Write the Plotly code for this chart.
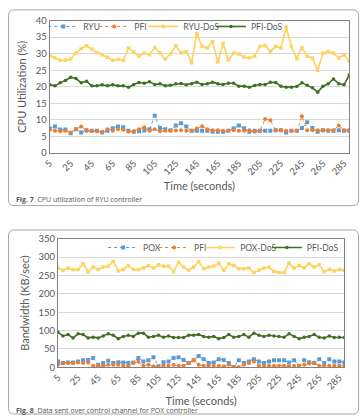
import plotly.graph_objects as go

W, H = 361, 420

time_s = list(range(5, 295, 5))
tick_vals = list(range(5, 290, 20))

# Fig 7 - CPU utilization (%)
ryu = [7.4, 8.0, 7.1, 7.1, 6.0, 7.2, 6.2, 6.9, 6.7, 6.7, 6.2, 6.7, 7.5, 8.0, 7.8, 6.7, 6.4, 6.6, 6.8, 7.2,
       11.3, 7.6, 7.2, 6.9, 8.3, 9.0, 8.0, 6.7, 6.7, 6.7, 6.7, 6.4, 6.4, 6.4, 6.7, 7.4, 8.3, 7.5, 6.4, 6.7,
       6.7, 6.7, 6.7, 6.9, 6.9, 6.2, 6.7, 6.7, 7.6, 9.3, 7.6, 6.4, 6.9, 6.7, 6.7, 6.9, 6.7, 6.7]
pfi = [7.0, 6.7, 6.6, 6.7, 6.2, 7.2, 8.0, 6.7, 6.7, 6.6, 6.4, 7.2, 6.7, 7.2, 7.0, 6.4, 6.6, 7.2, 7.8, 6.7,
       7.2, 6.6, 6.7, 6.7, 6.8, 6.9, 6.7, 6.7, 7.4, 8.1, 7.2, 6.9, 6.9, 6.7, 6.7, 6.9, 6.7, 6.7, 6.9, 6.4,
       6.7, 10.3, 9.9, 6.9, 6.9, 6.7, 6.7, 6.7, 11.1, 6.9, 6.9, 6.9, 6.9, 6.9, 6.9, 8.3, 6.9, 6.9]
ryu_dos = [29.5, 28.7, 28.0, 28.0, 28.4, 30.2, 31.6, 32.4, 31.4, 30.4, 29.7, 28.9, 28.0, 28.3, 28.0, 31.7,
           30.5, 29.2, 30.2, 29.7, 31.9, 30.2, 28.4, 29.9, 32.4, 30.2, 30.7, 27.3, 36.0, 32.2, 31.7, 33.6,
           27.5, 33.1, 28.0, 30.2, 29.9, 29.0, 28.7, 29.2, 32.2, 32.5, 30.7, 32.2, 31.7, 38.0, 32.2, 28.5,
           31.9, 29.2, 28.7, 25.0, 30.2, 30.7, 30.2, 28.7, 29.7, 27.7]
pfi_dos = [20.6, 20.3, 21.2, 21.9, 22.9, 22.5, 21.2, 21.7, 20.3, 20.3, 20.6, 20.3, 20.6, 20.3, 20.3, 19.9,
           20.7, 21.3, 21.1, 21.5, 20.7, 20.9, 20.3, 20.5, 20.9, 21.0, 20.6, 20.9, 21.4, 20.7, 20.9, 21.4,
           20.9, 20.7, 21.1, 21.1, 20.2, 20.2, 19.9, 20.4, 20.7, 20.7, 21.4, 21.3, 20.2, 19.9, 19.9, 20.1,
           21.2, 20.5, 19.7, 18.4, 20.2, 20.9, 22.4, 20.9, 20.6, 23.6]

# Fig 8 - Bandwidth (KB/sec)
pox = [16, 12, 13, 13, 16, 19, 20, 25, 7, 12, 18, 12, 14, 13, 12, 13, 25, 16, 19, 27, 3, 14, 16, 25, 27,
       20, 12, 19, 31, 22, 12, 13, 22, 20, 12, 0, 19, 12, 16, 22, 16, 12, 16, 19, 19, 19, 13, 19, 4, 19,
       14, 12, 22, 12, 22, 16, 16, 13]
pfi2 = [7, 12, 12, 12, 13, 12, 13, 4, 4, 3, 7, 7, 7, 4, 3, 12, 15, 4, 7, 3, 1, 4, 4, 7, 4,
        4, 12, 19, 7, 4, 4, 4, 4, 3, 7, 1, 1, 7, 12, 16, 4, 4, 4, 4, 4, 4, 3, 4, 4, 7,
        10, 13, 4, 4, 4, 4, 4, 4]
pox_dos = [270, 264, 270, 266, 266, 282, 260, 273, 266, 273, 275, 289, 262, 266, 277, 266, 266, 270, 277,
           270, 279, 275, 275, 260, 286, 273, 264, 273, 288, 268, 273, 275, 284, 264, 282, 277, 268, 268,
           270, 258, 264, 270, 273, 261, 258, 258, 284, 270, 277, 271, 282, 273, 279, 260, 266, 262, 266, 264]
pfi_dos2 = [96, 85, 89, 80, 91, 89, 80, 82, 80, 85, 91, 87, 78, 84, 87, 84, 93, 93, 82, 84, 87, 82, 85, 81,
            81, 81, 87, 87, 89, 84, 82, 84, 78, 81, 89, 82, 84, 89, 82, 93, 87, 84, 87, 85, 84, 82, 91, 84,
            78, 82, 84, 89, 82, 80, 85, 81, 82, 81]

BLUE, ORANGE, YELLOW, GREEN = "#5B9BD5", "#ED7D31", "#FCD462", "#3F6F24"
FONT = "Lato"
TXT = "#595959"


def px(x):
    return x / W


def py(y):
    return 1 - y / H


fig = go.Figure()

styles = [
    dict(line=dict(color=BLUE, width=1, dash="dot"), marker=dict(symbol="square", size=4, color=BLUE)),
    dict(line=dict(color=ORANGE, width=1, dash="dot"), marker=dict(symbol="circle", size=4, color=ORANGE)),
    dict(line=dict(color=YELLOW, width=1.7), marker=dict(symbol="square", size=3.5, color=YELLOW)),
    dict(line=dict(color=GREEN, width=1.6), marker=dict(symbol="circle", size=3.5, color=GREEN)),
]

legend_layout = {}
leg_idx = [0]


def add_series(xa, ya, names, data, leg_x, leg_y):
    for name, vals, st, lx in zip(names, data, styles, leg_x):
        leg_idx[0] += 1
        key = "legend" if leg_idx[0] == 1 else f"legend{leg_idx[0]}"
        fig.add_trace(go.Scatter(x=time_s, y=vals, name=name, mode="lines+markers",
                                 xaxis=xa, yaxis=ya, legend=key, **st))
        legend_layout[key] = dict(orientation="h", x=px(lx), y=py(leg_y), xanchor="left",
                                  yanchor="middle", bgcolor="rgba(255,255,255,0)", itemwidth=30,
                                  borderwidth=0, font=dict(family=FONT, size=8.5, color=TXT))


add_series("x", "y", ["RYU", "PFI", "RYU-DoS", "PFI-DoS"], [ryu, pfi, ryu_dos, pfi_dos],
           [37, 89, 139, 208], 21)
add_series("x2", "y2", ["POX", "PFI", "POX-DoS", "PFI-DoS"], [pox, pfi2, pox_dos, pfi_dos2],
           [98, 150, 197, 265], 248)

xcommon = dict(range=[5, 290], tickvals=tick_vals, tickangle=-45, showgrid=False,
               showline=True, mirror=True, linecolor="#808080", linewidth=1, ticks="",
               tickfont=dict(family=FONT, size=9.5, color=TXT), zeroline=False,
               title=dict(text="Time (seconds)", font=dict(family=FONT, size=11, color=TXT), standoff=6))
ycommon = dict(showgrid=True, gridcolor="#D9D9D9", gridwidth=1, showline=True, mirror=True,
               linecolor="#808080", linewidth=1, ticks="", zeroline=False,
               tickfont=dict(family=FONT, size=9.5, color=TXT))

fig.update_layout(
    width=W, height=H, margin=dict(l=0, r=0, t=0, b=0),
    paper_bgcolor="white", plot_bgcolor="white", showlegend=True,
    xaxis=dict(domain=[px(43.5), px(349)], anchor="y", **xcommon),
    yaxis=dict(domain=[py(151), py(15)], anchor="x", range=[0, 40], dtick=5,
               title=dict(text="CPU Utilization (%)", font=dict(family=FONT, size=11, color=TXT), standoff=6),
               **ycommon),
    xaxis2=dict(domain=[px(52), px(344)], anchor="y2", **xcommon),
    yaxis2=dict(domain=[py(371), py(239)], anchor="x2", range=[0, 350], dtick=50,
                title=dict(text="Bandwidth (KB/sec)", font=dict(family=FONT, size=11, color=TXT), standoff=6),
                **ycommon),
    **legend_layout,
)


def rounded_box(x0, y0, x1, y1, r=6):
    rx, ry = r / W, r / H
    X0, X1, Y0, Y1 = px(x0), px(x1), py(y0), py(y1)
    return (f"M {X0+rx},{Y0} L {X1-rx},{Y0} Q {X1},{Y0} {X1},{Y0-ry} "
            f"L {X1},{Y1+ry} Q {X1},{Y1} {X1-rx},{Y1} L {X0+rx},{Y1} Q {X0},{Y1} {X0},{Y1+ry} "
            f"L {X0},{Y0-ry} Q {X0},{Y0} {X0+rx},{Y0} Z")


for box in [(1.5, 4, 358.5, 205), (1.5, 230, 358.5, 419)]:
    fig.add_shape(type="path", path=rounded_box(*box), xref="paper", yref="paper",
                  line=dict(color="#A6A6A6", width=1), layer="below")

fig.add_annotation(text="<b>Fig. 7</b>  CPU utilization of RYU controller", x=px(7), y=py(198.5),
                   xref="paper", yref="paper", xanchor="left", yanchor="middle", showarrow=False,
                   font=dict(family="Open Sans", size=7, color="#555555"))
fig.add_annotation(text="<b>Fig. 8</b>  Data sent over control channel for POX controller", x=px(7), y=py(415),
                   xref="paper", yref="paper", xanchor="left", yanchor="middle", showarrow=False,
                   font=dict(family="Open Sans", size=7, color="#555555"))

fig.write_html("out.html")
